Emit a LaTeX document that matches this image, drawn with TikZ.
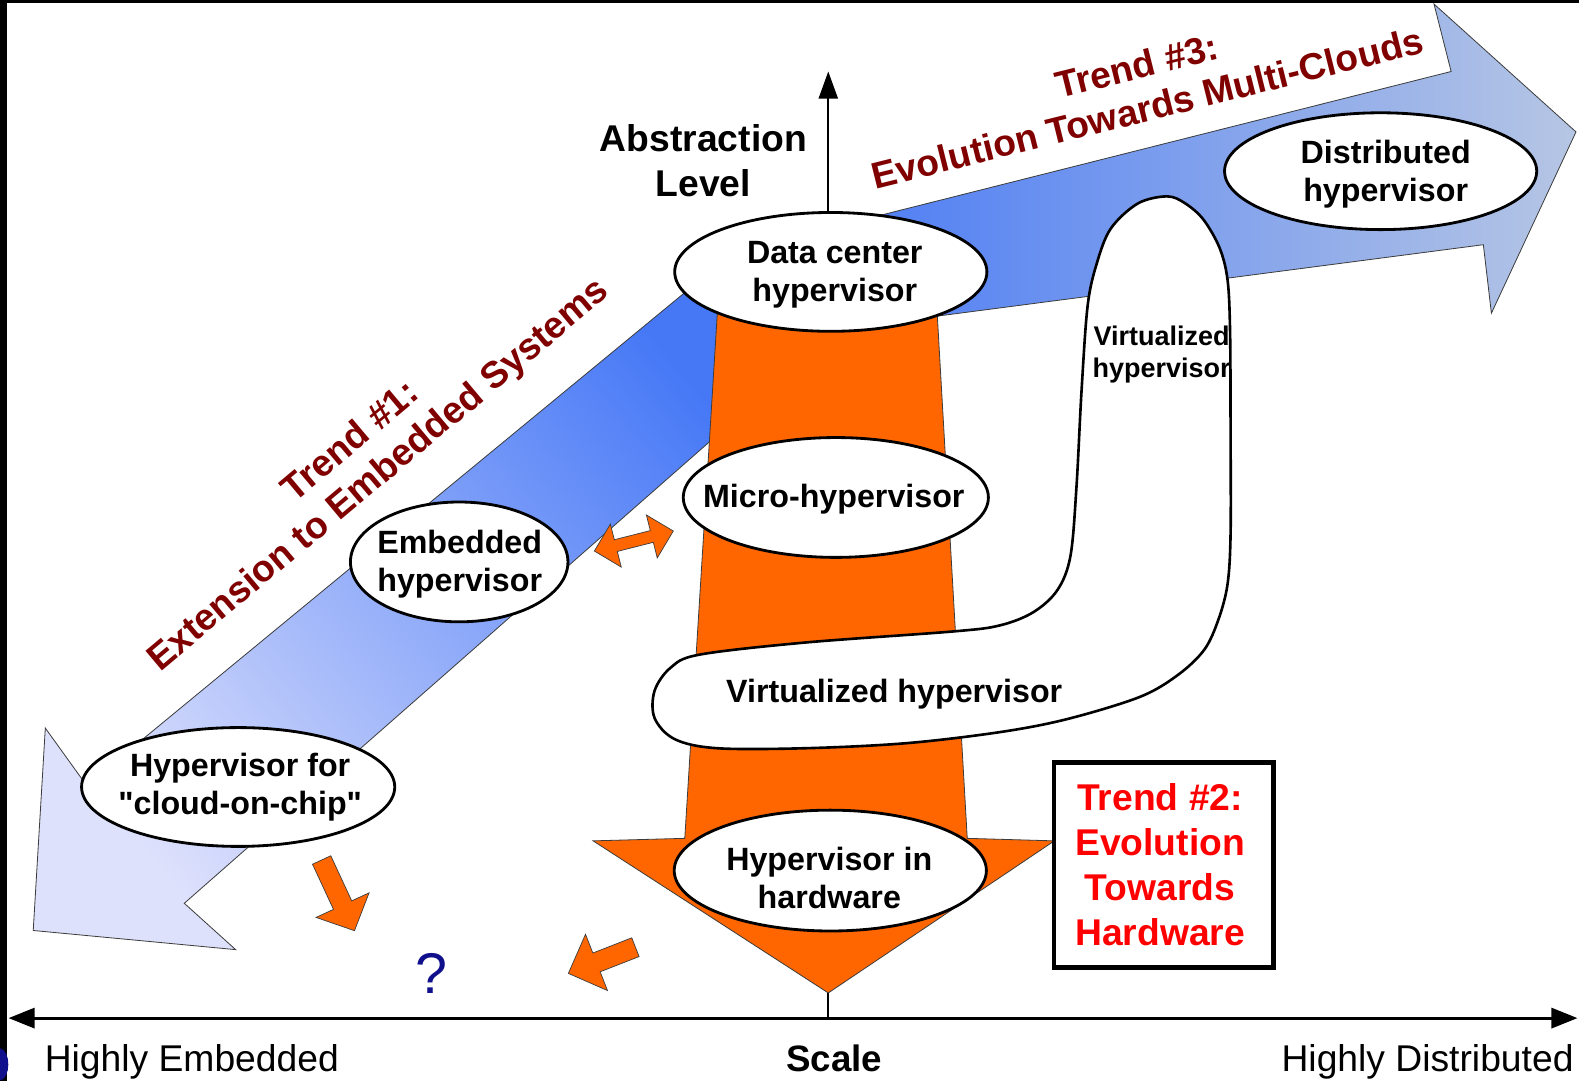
\documentclass[tikz,border=0pt]{standalone}
\usepackage{fontspec}
\setmainfont{Liberation Sans}
% same face without the TeX quote mapping, for straight double quotes
\newfontfamily\hvplain{Liberation Sans}
\usetikzlibrary{shapes.geometric,arrows.meta,calc}

\definecolor{hvorange}{RGB}{255,102,0}
\definecolor{hvmaroon}{RGB}{128,0,0}
\definecolor{hvblue}{RGB}{70,120,246}
\definecolor{hvpale}{RGB}{222,225,252}
\definecolor{hvsteel}{RGB}{182,198,228}
\definecolor{hvnavy}{RGB}{16,16,140}
\definecolor{hvedge}{RGB}{60,60,60}

\newcommand{\fsz}[2]{\fontsize{#1}{#2}\selectfont}
\newcommand{\dq}{{\hvplain\symbol{34}}}

% orange block arrow from #2 to #3: #4 half shaft width, #5 half head width, #6 head length
\newcommand{\singleblock}[6]{%
  \coordinate (#1-n) at ($(#3)!#6!(#2)$);
  \path[smallarrow] ($(#2)!#4!90:(#3)$) -- ($(#1-n)!#4!90:(#3)$) -- ($(#1-n)!#5!90:(#3)$) -- (#3)
     -- ($(#1-n)!#5!-90:(#3)$) -- ($(#1-n)!#4!-90:(#3)$) -- ($(#2)!#4!-90:(#3)$) -- cycle;}

% orange block arrow with a head at both ends
\newcommand{\doubleblock}[6]{%
  \coordinate (#1-na) at ($(#2)!#6!(#3)$);
  \coordinate (#1-nb) at ($(#3)!#6!(#2)$);
  \path[smallarrow] (#2) -- ($(#1-na)!#5!90:(#3)$) -- ($(#1-na)!#4!90:(#3)$) -- ($(#1-nb)!#4!90:(#3)$)
     -- ($(#1-nb)!#5!90:(#3)$) -- (#3) -- ($(#1-nb)!#5!-90:(#3)$) -- ($(#1-nb)!#4!-90:(#3)$)
     -- ($(#1-na)!#4!-90:(#3)$) -- ($(#1-na)!#5!-90:(#3)$) -- cycle;}

\begin{document}
\begin{tikzpicture}[x=1pt,y=-1pt,
  hyp/.style={ellipse, draw=black, line width=2.8pt, fill=white, inner sep=0pt},
  hyptxt/.style={font=\fsz{32}{38}\bfseries, align=center, inner sep=0pt},
  trendtxt/.style={font=\fsz{37}{43}\bfseries, text=hvmaroon, align=center, inner sep=0pt},
  axislbl/.style={font=\fsz{37}{43}, inner sep=0pt},
  bigband/.style={draw=hvedge, line width=0.8pt},
  smallarrow/.style={fill=hvorange, draw=hvedge, line width=0.7pt}]

\useasboundingbox (0,0) rectangle (1568,1073);
\fill[white] (0,0) rectangle (1568,1073);
% frame strips
\fill[black] (0,0) rectangle (7,1073);
\fill[black] (0,0) rectangle (1568,3);
\fill[hvnavy] (0,1041) .. controls (11,1043) and (11,1071) .. (0,1073) -- cycle;

% axes
\coordinate (xl) at (8.5,1011);
\coordinate (xr) at (1566.5,1011);
\coordinate (org) at (822.5,1011);
\coordinate (yt) at (822.5,71);
\draw[line width=2pt, -{Triangle[length=27pt,width=19pt]}] (org) -- (yt);

% trend 1 band (towards embedded)
\path[bigband, left color=hvpale, right color=hvblue, shading angle=130]
  (745,237) -- (86,780) -- (45,723) -- (33,924) -- (234,943) -- (183,897) -- (760,390) -- cycle;
% trend 3 band (towards multi-clouds)
\path[bigband, left color=hvblue, right color=hvsteel]
  (790,235) -- (1441,71) -- (1424,4) -- (1565,131) -- (1481,311) -- (1473,243) -- (800,331) -- cycle;
% trend 2 arrow (towards hardware)
\path[bigband, fill=hvorange]
  (713,300) -- (680,832.5) -- (589,835) -- (822.5,986) -- (1047,835) -- (960.5,832.5) -- (930,300) -- cycle;

% virtualized hypervisor outline
\draw[line width=2.6pt, fill=white] plot[smooth cycle, tension=0.55] coordinates {
  (1159,195) (1177,202) (1195,218) (1211,246) (1219,278) (1221.5,330) (1222,430) (1222,530)
  (1219,580) (1210,615) (1196,645) (1170,670) (1132,692) (1060,714) (993,727) (900,738)
  (800,743) (712,743) (670,734) (650,713) (650,686) (666,663) (695,650) (800,638)
  (947,627) (993,621) (1026,608) (1050,586) (1063,552) (1069,483) (1074,388) (1080,304)
  (1089,262) (1103,227) (1130,202)};

% hypervisor ellipses
\node[hyp, minimum width=310pt, minimum height=118pt] (dc) at (825,270) {};
\node[hyptxt] (dc-t) at (829,273) {Data center\\hypervisor};
\node[hyp, minimum width=303pt, minimum height=119pt] (micro) at (830,494) {};
\node[hyptxt] (micro-t) at (828,496) {Micro-hypervisor};
\node[hyp, minimum width=310pt, minimum height=120pt] (hw) at (824.5,864.5) {};
\node[hyptxt] (hw-t) at (823.5,871.5) {Hypervisor in\\hardware};
\node[hyp, minimum width=216pt, minimum height=119pt] (emb) at (456,558) {};
\node[hyptxt] (emb-t) at (456.5,560) {Embedded\\hypervisor};
\node[hyp, minimum width=311pt, minimum height=118pt] (coc) at (236.5,781.5) {};
\node[hyptxt] (coc-t) at (238.5,782) {Hypervisor for\\\dq cloud-on-chip\dq};
\node[hyp, minimum width=310pt, minimum height=116pt] (dist) at (1371,170) {};
\node[hyptxt] (dist-t) at (1376,173) {Distributed\\hypervisor};

\node[font=\fsz{32}{38}\bfseries, inner sep=0pt] (virt-t) at (888,689.5) {Virtualized hypervisor};
\node[font=\fsz{26.8}{32.5}\bfseries, align=center, inner sep=0pt] (virt-s) at (1153.5,352) {Virtualized\\hypervisor};

\node[font=\fsz{37}{44.7}\bfseries, align=center, inner sep=0pt] (abs) at (698.5,159.5) {Abstraction\\Level};

% trend captions
\node[trendtxt, rotate=40] (t1) at (363,456) {Trend \#1:\\Extension to Embedded Systems};
\node[trendtxt, rotate=14] (t3) at (1134,86) {Trend \#3:\\Evolution Towards Multi-Clouds};
\node[draw=black, line width=4.5pt, fill=white, minimum width=218pt, minimum height=204pt, inner sep=0pt] (t2box) at (1155.5,859) {};
\node[font=\fsz{37}{44.6}\bfseries, text=red, align=center, inner sep=0pt] (t2) at (1152,858.4) {Trend \#2:\\Evolution\\Towards\\Hardware};

% open question and the small arrows
\node[font=\fsz{57}{60}, text=hvnavy, inner sep=0pt] (q) at (428.5,967) {?};
\coordinate (da) at (590.2,547.2);
\coordinate (db) at (668.6,527.3);
\doubleblock{dbl}{da}{db}{6pt}{22pt}{22pt}
\coordinate (ca) at (319.4,854);
\coordinate (cb) at (352,924.2);
\singleblock{cl}{ca}{cb}{10pt}{29pt}{28pt}
\coordinate (ha) at (631,940.6);
\coordinate (hb) at (564.4,966.6);
\singleblock{hd}{ha}{hb}{10pt}{30pt}{30pt}

% horizontal scale axis
\draw[line width=3pt, {Triangle[length=26pt,width=20pt]}-{Triangle[length=26pt,width=20pt]}] (xl) -- (xr);
\node[axislbl, anchor=base west] (lbl-e) at (44.3,1064.2) {Highly Embedded};
\node[axislbl, font=\fsz{36.5}{43}\bfseries, anchor=base] (lbl-s) at (828.4,1064.2) {Scale};
\node[axislbl, anchor=base east] (lbl-d) at (1562.8,1064.2) {Highly Distributed};
\end{tikzpicture}
\end{document}
